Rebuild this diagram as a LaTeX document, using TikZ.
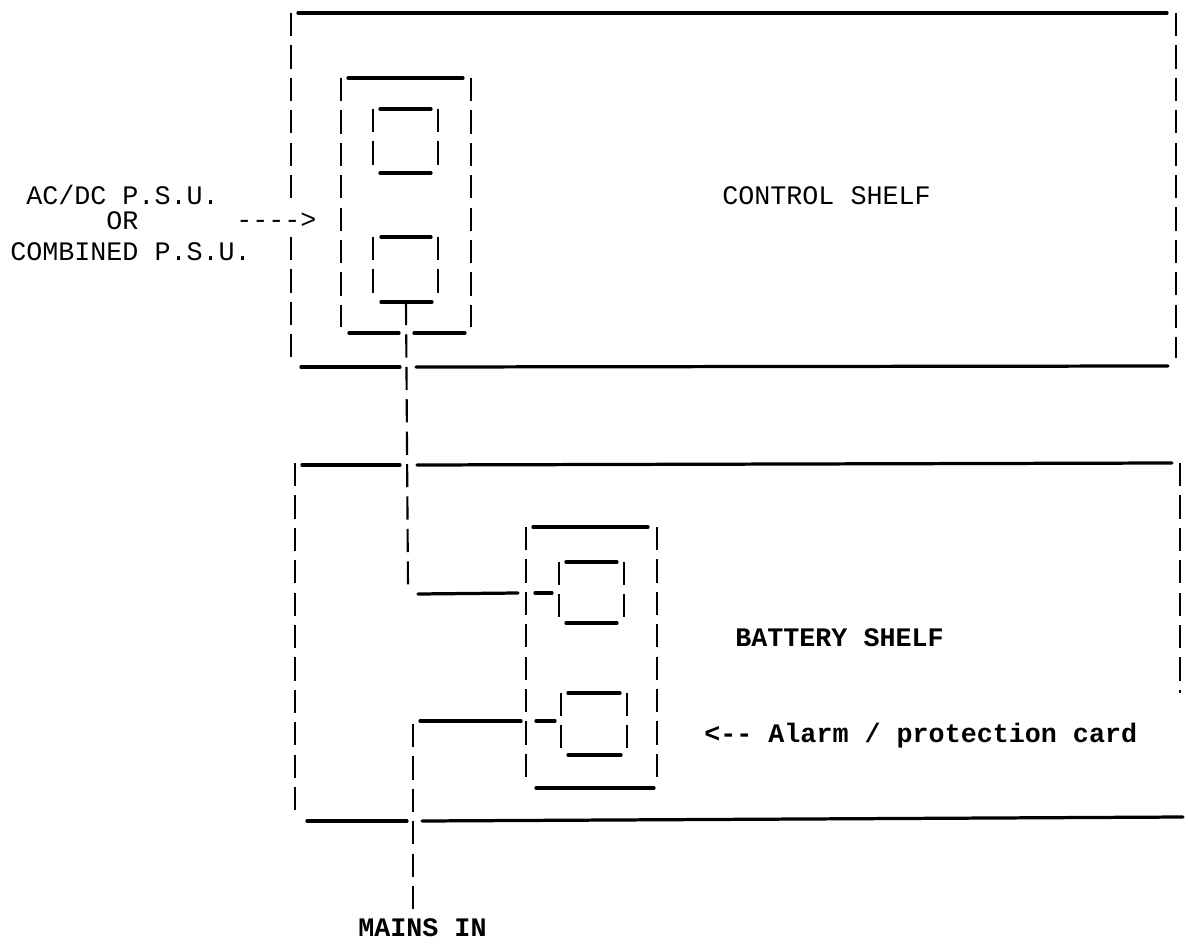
\documentclass[tikz,border=0pt]{standalone}
\usepackage{fontspec}
\setmonofont{Liberation Mono}
\begin{document}
\begin{tikzpicture}[x=0.025cm, y=-0.025cm,
  hline/.style={line width=2.3pt, line cap=round},
  vline/.style={line width=1.5pt, dash pattern=on 0.58cm off 0.23cm},
  txt/.style={font=\fontsize{19}{23}\selectfont\ttfamily, inner sep=0pt, anchor=base west},
  btxt/.style={txt, font=\fontsize{19}{23}\selectfont\ttfamily\bfseries}]

\useasboundingbox (0,0) rectangle (1188,944);

% Draw the control shelf (the left side is broken where the arrow comes in)
\draw[hline] (298,13) -- (1167,13);
\draw[hline] (301,367) -- (400,367);
\draw[hline] (416,367) -- (1168,366);
\draw[vline] (291,13) -- (291,200);
\draw[vline] (291,237) -- (291,360);
\draw[vline] (1176,13) -- (1176,358);

% Draw the P.S.U. rack and its two cards
\draw[hline] (348,78) -- (463,78);
\draw[hline] (349,333) -- (399,333);
\draw[hline] (414,333) -- (465,333);
\draw[vline] (341,78) -- (341,327);
\draw[vline] (471,78) -- (471,327);
\draw[hline] (380,109) -- (431,109);
\draw[hline] (380,173) -- (431,173);
\draw[vline] (373,109) -- (373,167);
\draw[vline] (438,109) -- (438,167);
\draw[hline] (381,237) -- (431,237);
\draw[hline] (381,302) -- (432,302);
\draw[vline] (373,237) -- (373,295);
\draw[vline] (438,237) -- (438,295);

% Draw the battery shelf
\draw[hline] (302,465) -- (400,465);
\draw[hline] (417,465) -- (1172,463);
\draw[hline] (307,821) -- (407,821);
\draw[hline] (422,821) -- (1183,817);
\draw[vline] (295,463) -- (295,813);
\draw[vline] (1180,463) -- (1180,693);

% Draw the alarm / protection rack and its two cards
\draw[hline] (533,527) -- (648,527);
\draw[hline] (536,788) -- (654,788);
\draw[vline] (526,527) -- (526,782);
\draw[vline] (657,527) -- (657,782);
\draw[hline] (566,562) -- (617,562);
\draw[hline] (566,623) -- (617,623);
\draw[vline] (559,562) -- (559,617);
\draw[vline] (624,562) -- (624,617);
\draw[hline] (568,693) -- (620,693);
\draw[hline] (568,755) -- (621,755);
\draw[vline] (561,693) -- (561,748);
\draw[vline] (627,693) -- (627,748);

% Define the cable points
\coordinate (psuout) at (406,302);
\coordinate (bendA) at (408,587);
\coordinate (cardA) at (552,593);
\coordinate (bendB) at (413,724);
\coordinate (mains) at (413,910);
\coordinate (cardB) at (555,721);

% Cable from the P.S.U. down to the first card
\draw[vline] (psuout) -- (bendA);
\draw[hline] (418,594) -- (518,593);
\draw[hline] (535,593) -- (cardA);

% Cable from the mains to the second card
\draw[vline] (bendB) -- (mains);
\draw[hline] (420,721) -- (521,721);
\draw[hline] (536,721) -- (cardB);

% Label the shelves and parts
\node[txt] (acdc) at (26,205) {AC/DC P.S.U.};
\node[txt] (or) at (106,230) {OR};
\node[txt] (comb) at (10,261) {COMBINED P.S.U.};
\node[txt] (psuarrow) at (236,229) {---{}->};
\node[txt] (ctrl) at (722,205) {CONTROL SHELF};
\node[btxt] (batt) at (735,646) {BATTERY SHELF};
\node[btxt] (alarm) at (704,742) {<-{}- Alarm / protection card};
\node[btxt] (mainsin) at (358,936) {MAINS IN};
\end{tikzpicture}
\end{document}
